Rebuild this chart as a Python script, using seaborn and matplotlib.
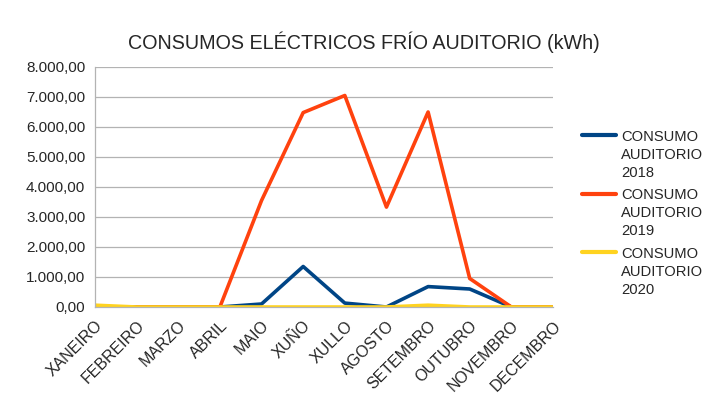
import pandas as pd
import matplotlib
matplotlib.use('Agg')
import matplotlib.pyplot as plt
import seaborn as sns

# datos mensuais (kWh)
meses = ['XANEIRO', 'FEBREIRO', 'MARZO', 'ABRIL', 'MAIO', 'XUÑO', 'XULLO',
         'AGOSTO', 'SETEMBRO', 'OUTUBRO', 'NOVEMBRO', 'DECEMBRO']
consumo_2018 = [0, 0, 0, 0, 100, 1350, 130, 0, 680, 600, 0, 0]
consumo_2019 = [0, 0, 0, 0, 3550, 6480, 7050, 3330, 6500, 950, 0, 0]
consumo_2020 = [60, 0, 0, 0, 0, 0, 0, 0, 60, 0, 0, 0]
series = ['CONSUMO\nAUDITORIO\n2018', 'CONSUMO\nAUDITORIO\n2019', 'CONSUMO\nAUDITORIO\n2020']
cores = ['#004586', '#ff420e', '#ffd320']

df = pd.DataFrame({
    'mes': meses * 3,
    'x': list(range(12)) * 3,
    'valor': consumo_2018 + consumo_2019 + consumo_2020,
    'serie': [series[0]] * 12 + [series[1]] * 12 + [series[2]] * 12,
})

sns.set_style('white')
plt.rcParams['font.family'] = ['Liberation Sans', 'DejaVu Sans']

fig = plt.figure(figsize=(7.05, 4.04), dpi=100)
ax = fig.add_axes([95 / 705, 1 - 307 / 404, (553 - 95) / 705, (307 - 67) / 404])

sns.lineplot(data=df, x='x', y='valor', hue='serie', palette=cores,
             linewidth=2.6, ax=ax, legend=True)

ax.set_xlim(0, 11)
ax.set_ylim(0, 8000)
ax.set_yticks(range(0, 8001, 1000))
ax.set_yticklabels([f'{v:,}'.replace(',', '.') + ',00' for v in range(0, 8001, 1000)], fontsize=11)
ax.set_xticks(range(12))
ax.set_xticklabels(meses, rotation=45, ha='right', rotation_mode='anchor', fontsize=11.5)
ax.set_xlabel('')
ax.set_ylabel('')
ax.grid(axis='y', color='#b3b3b3', linewidth=0.9)
ax.set_axisbelow(True)
for s in ['top', 'right']:
    ax.spines[s].set_visible(False)
for s in ['left', 'bottom']:
    ax.spines[s].set_color('#b3b3b3')
    ax.spines[s].set_linewidth(0.9)
ax.tick_params(axis='x', length=5, color='#b3b3b3', pad=3)
ax.tick_params(axis='y', length=5, color='#b3b3b3', pad=2)

fig.text(364 / 705, 1 - 42 / 404, 'CONSUMOS ELÉCTRICOS FRÍO AUDITORIO (kWh)',
         ha='center', va='center', fontsize=14.2)

leg = ax.legend(loc='upper left', bbox_to_anchor=(576 / 705, 1 - 124 / 404),
                bbox_transform=fig.transFigure, frameon=False,
                fontsize=10.6, handlelength=2.3, labelspacing=0.6,
                handletextpad=0.35, borderaxespad=0)
for line in leg.get_lines():
    line.set_linewidth(3)
for t in leg.get_texts():
    t.set_linespacing(1.35)
# aliñar a liña da lenda coa primeira liña do texto
for col in leg._legend_handle_box.get_children():
    for row in col.get_children():
        row.align = 'top'

fig.savefig('out.png', dpi=100)
